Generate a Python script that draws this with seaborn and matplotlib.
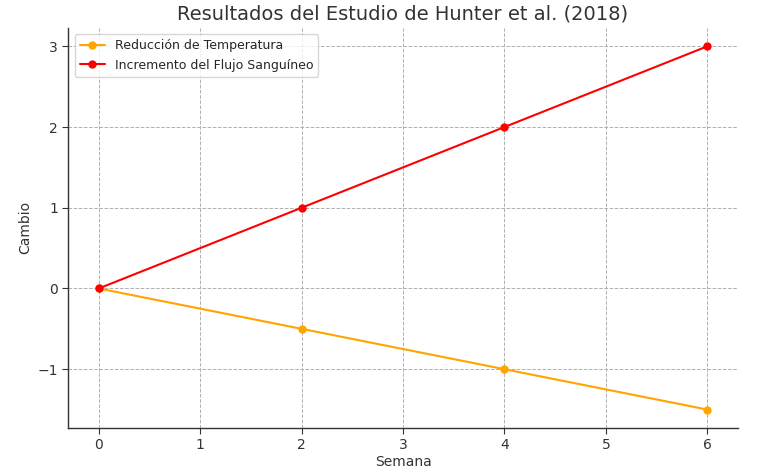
import matplotlib
matplotlib.use("Agg")
import matplotlib.pyplot as plt
import seaborn as sns
import pandas as pd

semanas = [0, 2, 4, 6]
reduccion_temp = [0, -0.5, -1, -1.5]
flujo = [0, 1, 2, 3]

sns.set_style("whitegrid")
plt.rcParams['font.family'] = ['DejaVu Sans']

fig, ax = plt.subplots(figsize=(7.59, 4.69), dpi=100)
fig.subplots_adjust(left=0.09, right=0.972, top=0.94, bottom=0.088)

df = pd.DataFrame({"Semana": semanas * 2,
                   "Cambio": reduccion_temp + flujo,
                   "Serie": ["Reducción de Temperatura"] * 4 + ["Incremento del Flujo Sanguíneo"] * 4})
sns.lineplot(data=df, x="Semana", y="Cambio", hue="Serie", marker="o", markeredgewidth=0,
             palette=["orange", "red"], ax=ax, markersize=6, linewidth=1.5)

ax.grid(True, linestyle="--", color="#b0b0b0", linewidth=0.7)
for s in ["top", "right"]:
    ax.spines[s].set_visible(False)
for s in ["left", "bottom"]:
    ax.spines[s].set_color("#333333")
    ax.spines[s].set_linewidth(1)
ax.tick_params(axis="both", colors="#333333", labelsize=10, length=4, left=True, bottom=True)
ax.set_xticks([0, 1, 2, 3, 4, 5, 6])
ax.set_yticks([-1, 0, 1, 2, 3])
ax.set_xlabel("Semana", fontsize=10, color="#333333", labelpad=2)
ax.set_ylabel("Cambio", fontsize=10, color="#333333")
ax.set_title("Resultados del Estudio de Hunter et al. (2018)", fontsize=14, color="#333333")
leg = ax.legend(loc="upper left", fontsize=9, frameon=True)
leg.set_title(None)
fig.savefig("out.png", dpi=100)
